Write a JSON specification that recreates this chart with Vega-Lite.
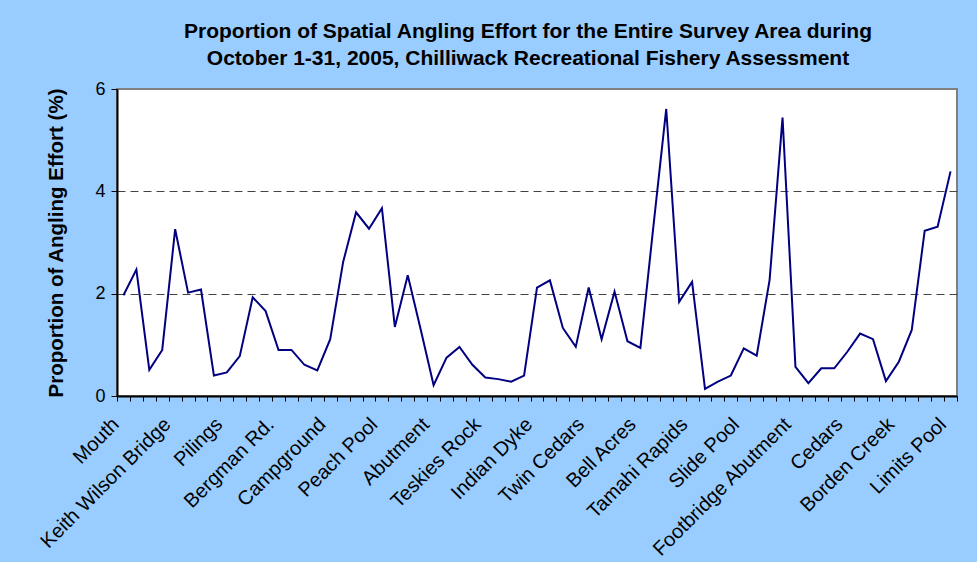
{
  "$schema": "https://vega.github.io/schema/vega-lite/v6.json",
  "width": 840,
  "height": 307,
  "autosize": {"type": "none"},
  "padding": {"left": 117, "top": 89, "right": 20, "bottom": 166},
  "background": "#99CCFF",
  "title": {
    "text": ["Proportion of Spatial Angling Effort for the Entire Survey Area during", "October 1-31, 2005, Chilliwack Recreational Fishery Assessment"],
    "font": "Liberation Sans",
    "fontSize": 21,
    "fontWeight": "bold",
    "lineHeight": 27,
    "color": "#000000",
    "anchor": "middle",
    "dx": -9,
    "offset": 11
  },
  "data": {
    "values": [
      {"site": "Mouth", "effort": 1.97},
      {"site": "Section 2", "effort": 2.47},
      {"site": "Section 3", "effort": 0.51},
      {"site": "Section 4", "effort": 0.90},
      {"site": "Keith Wilson Bridge", "effort": 3.26},
      {"site": "Section 6", "effort": 2.02},
      {"site": "Section 7", "effort": 2.08},
      {"site": "Section 8", "effort": 0.40},
      {"site": "Pilings", "effort": 0.46},
      {"site": "Section 10", "effort": 0.78},
      {"site": "Section 11", "effort": 1.93},
      {"site": "Section 12", "effort": 1.66},
      {"site": "Bergman Rd.", "effort": 0.90},
      {"site": "Section 14", "effort": 0.90},
      {"site": "Section 15", "effort": 0.61},
      {"site": "Section 16", "effort": 0.50},
      {"site": "Campground", "effort": 1.11},
      {"site": "Section 18", "effort": 2.62},
      {"site": "Section 19", "effort": 3.59},
      {"site": "Section 20", "effort": 3.27},
      {"site": "Peach Pool", "effort": 3.67},
      {"site": "Section 22", "effort": 1.35},
      {"site": "Section 23", "effort": 2.36},
      {"site": "Section 24", "effort": 1.30},
      {"site": "Abutment", "effort": 0.21},
      {"site": "Section 26", "effort": 0.75},
      {"site": "Section 27", "effort": 0.96},
      {"site": "Section 28", "effort": 0.61},
      {"site": "Teskies Rock", "effort": 0.36},
      {"site": "Section 30", "effort": 0.33},
      {"site": "Section 31", "effort": 0.28},
      {"site": "Section 32", "effort": 0.40},
      {"site": "Indian Dyke", "effort": 2.12},
      {"site": "Section 34", "effort": 2.26},
      {"site": "Section 35", "effort": 1.33},
      {"site": "Section 36", "effort": 0.96},
      {"site": "Twin Cedars", "effort": 2.12},
      {"site": "Section 38", "effort": 1.11},
      {"site": "Section 39", "effort": 2.04},
      {"site": "Section 40", "effort": 1.07},
      {"site": "Bell Acres", "effort": 0.94},
      {"site": "Section 42", "effort": 3.30},
      {"site": "Section 43", "effort": 5.61},
      {"site": "Section 44", "effort": 1.84},
      {"site": "Tamahi Rapids", "effort": 2.23},
      {"site": "Section 46", "effort": 0.14},
      {"site": "Section 47", "effort": 0.28},
      {"site": "Section 48", "effort": 0.40},
      {"site": "Slide Pool", "effort": 0.93},
      {"site": "Section 50", "effort": 0.79},
      {"site": "Section 51", "effort": 2.27},
      {"site": "Section 52", "effort": 5.44},
      {"site": "Footbridge Abutment", "effort": 0.57},
      {"site": "Section 54", "effort": 0.25},
      {"site": "Section 55", "effort": 0.54},
      {"site": "Section 56", "effort": 0.54},
      {"site": "Cedars", "effort": 0.86},
      {"site": "Section 58", "effort": 1.22},
      {"site": "Section 59", "effort": 1.11},
      {"site": "Section 60", "effort": 0.29},
      {"site": "Borden Creek", "effort": 0.67},
      {"site": "Section 62", "effort": 1.29},
      {"site": "Section 63", "effort": 3.23},
      {"site": "Section 64", "effort": 3.31},
      {"site": "Limits Pool", "effort": 4.39}
    ]
  },
  "mark": {"type": "line", "color": "#000080", "strokeWidth": 2},
  "encoding": {
    "x": {
      "field": "site",
      "type": "nominal",
      "sort": null,
      "bandPosition": 0.5,
      "scale": {"type": "band", "paddingInner": 0, "paddingOuter": 0},
      "axis": {
        "title": null,
        "tickBand": "extent",
        "labelAngle": -45,
        "labelAlign": "right",
        "labelBaseline": "middle",
        "labelPadding": 20,
        "labelOffset": -8,
        "labelFont": "Liberation Sans",
        "labelFontSize": 20,
        "labelColor": "#000000",
        "labelOverlap": false,
        "labelLimit": 400,
        "labelExpr": "(round(datum.index * 64) % 4 == 0) ? datum.label : ''",
        "tickSize": 5,
        "tickColor": "#000000",
        "domainColor": "#000000",
        "domainWidth": 2,
        "grid": false
      }
    },
    "y": {
      "field": "effort",
      "type": "quantitative",
      "scale": {"domain": [0, 6], "nice": false},
      "axis": {
        "title": "Proportion of Angling Effort (%)",
        "titleFont": "Liberation Sans",
        "titleFontSize": 20.5,
        "titleFontWeight": "bold",
        "titleColor": "#000000",
        "titlePadding": 28,
        "values": [0, 2, 4, 6],
        "labelFont": "Liberation Sans",
        "labelFontSize": 18,
        "labelColor": "#000000",
        "labelPadding": 6,
        "tickSize": 6,
        "tickColor": "#000000",
        "domainColor": "#000000",
        "domainWidth": 2,
        "grid": true,
        "gridColor": "#444444",
        "gridDash": [8, 5],
        "gridWidth": 1,
        "gridOpacity": {"condition": {"test": "datum.value == 0 || datum.value == 6", "value": 0}, "value": 1}
      }
    }
  },
  "config": {
    "view": {"fill": "#FFFFFF", "stroke": "#808080", "strokeWidth": 2}
  }
}
